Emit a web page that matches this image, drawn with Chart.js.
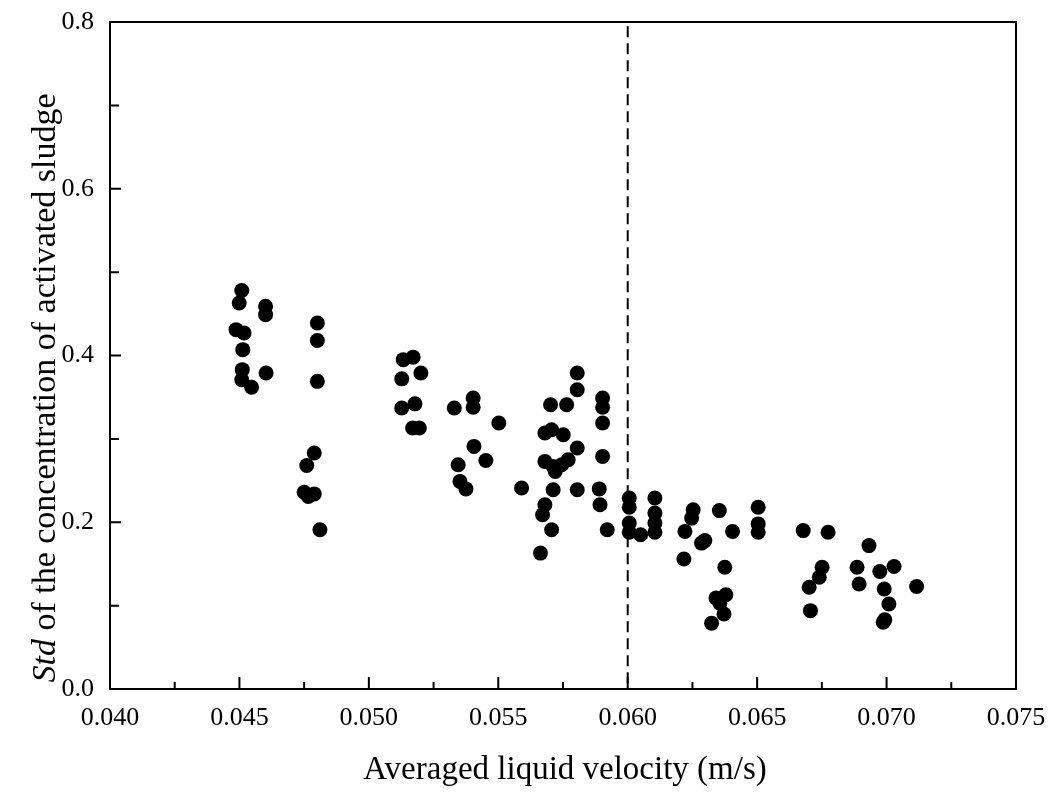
<!DOCTYPE html>
<html>
<head>
<meta charset="utf-8">
<script src="https://cdn.jsdelivr.net/npm/chart.js@4.4.0/dist/chart.umd.min.js"></script>
<style>
html, body { margin: 0; padding: 0; background: #fff; }
#wrap { width: 1056px; height: 792px; }
</style>
</head>
<body>
<div id="wrap"><canvas id="chart"></canvas></div>
<script>
// averaged liquid velocity (m/s)
const velocity = [
  0.04509, 0.04499, 0.04601, 0.04601, 0.04487, 0.04518, 0.04513, 0.04511, 0.04603, 0.04509, 0.04547,
  0.04801, 0.04801, 0.04801, 0.04789, 0.04760, 0.04766, 0.04789, 0.04750, 0.04811,
  0.05133, 0.05171, 0.05127, 0.05201, 0.05127, 0.05178, 0.05169, 0.05195,
  0.05330, 0.05403, 0.05403, 0.05502, 0.05406, 0.05452, 0.05345, 0.05352, 0.05375, 0.05590,
  0.05805, 0.05805, 0.05702, 0.05764, 0.05903, 0.05903, 0.05903, 0.05680, 0.05706, 0.05751,
  0.05805, 0.05903, 0.05680, 0.05712, 0.05745, 0.05770, 0.05720, 0.05712, 0.05805, 0.05890,
  0.05893, 0.05680, 0.05671, 0.05706, 0.05921, 0.05663,
  0.06006, 0.06006, 0.06006, 0.06006, 0.06050, 0.06105, 0.06105, 0.06105, 0.06105,
  0.06253, 0.06247, 0.06221, 0.06298, 0.06285, 0.06354, 0.06405, 0.06217, 0.06375,
  0.06341, 0.06379, 0.06356, 0.06372, 0.06324, 0.06504, 0.06504, 0.06504,
  0.06678, 0.06774, 0.06932, 0.06751, 0.06740, 0.06701, 0.06706,
  0.06886, 0.06894, 0.06974, 0.07029, 0.06991, 0.07009, 0.06993, 0.06987, 0.07116
];
// Std of the concentration of activated sludge
const stdConc = [
  0.478, 0.463, 0.459, 0.449, 0.431, 0.427, 0.407, 0.383, 0.379, 0.371, 0.362,
  0.439, 0.418, 0.369, 0.283, 0.268, 0.231, 0.234, 0.236, 0.191,
  0.395, 0.398, 0.372, 0.379, 0.337, 0.342, 0.313, 0.313,
  0.337, 0.349, 0.338, 0.319, 0.291, 0.274, 0.269, 0.249, 0.240, 0.241,
  0.379, 0.359, 0.341, 0.341, 0.349, 0.338, 0.319, 0.307, 0.311, 0.305,
  0.289, 0.279, 0.273, 0.267, 0.269, 0.275, 0.261, 0.239, 0.239, 0.240,
  0.221, 0.221, 0.209, 0.191, 0.191, 0.163,
  0.229, 0.218, 0.199, 0.188, 0.185, 0.229, 0.211, 0.199, 0.188,
  0.215, 0.205, 0.189, 0.178, 0.175, 0.214, 0.189, 0.156, 0.146,
  0.109, 0.113, 0.103, 0.090, 0.079, 0.218, 0.198, 0.188,
  0.190, 0.188, 0.172, 0.146, 0.134, 0.122, 0.094,
  0.146, 0.126, 0.141, 0.147, 0.120, 0.102, 0.083, 0.080, 0.123
];
// dashed reference line at 0.060 m/s (drawn top-down)
const thresholdX = 0.060;
const thresholdY = [0.795, 0];

const serif = '"Liberation Serif", "Times New Roman", serif';

// 边框、内向刻度和坐标轴标题
const framePlugin = {
  id: 'frame',
  afterDraw(chart) {
    const { ctx, chartArea: a, scales: { x, y } } = chart;
    ctx.save();
    ctx.strokeStyle = '#000';
    ctx.lineWidth = 2;
    ctx.strokeRect(a.left, a.top, a.right - a.left, a.bottom - a.top);

    ctx.beginPath();
    for (let i = 0; i <= 14; i++) {
      const px = x.getPixelForValue(0.040 + i * 0.0025);
      const len = i % 2 === 0 ? 12 : 7;
      ctx.moveTo(px, a.bottom);
      ctx.lineTo(px, a.bottom - len);
    }
    for (let i = 0; i <= 8; i++) {
      const py = y.getPixelForValue(i * 0.1);
      const len = i % 2 === 0 ? 11 : 9;
      ctx.moveTo(a.left, py);
      ctx.lineTo(a.left + len, py);
    }
    ctx.stroke();

    // x title
    ctx.fillStyle = '#000';
    ctx.textAlign = 'center';
    ctx.textBaseline = 'middle';
    ctx.font = '33px ' + serif;
    ctx.fillText('Averaged liquid velocity (m/s)', 565, 770);

    // y title, "Std" in italics
    ctx.translate(46, 388);
    ctx.rotate(-Math.PI / 2);
    ctx.font = 'italic 34px ' + serif;
    const w1 = ctx.measureText('Std').width;
    ctx.font = '34px ' + serif;
    const rest = ' of the concentration of activated sludge';
    const w2 = ctx.measureText(rest).width;
    const sx = -(w1 + w2) / 2;
    ctx.textAlign = 'left';
    ctx.font = 'italic 34px ' + serif;
    ctx.fillText('Std', sx, 0);
    ctx.font = '34px ' + serif;
    ctx.fillText(rest, sx + w1, 0);
    ctx.restore();
  }
};

// 去掉刻度标签造成的额外边距，让绘图区位置固定
function noOverhang(scale) {
  scale.paddingTop = 0;
  scale.paddingBottom = 0;
  scale.paddingLeft = 0;
  scale.paddingRight = 0;
}

new Chart(document.getElementById('chart'), {
  type: 'scatter',
  data: {
    datasets: [
      {
        data: velocity.map((v, i) => ({ x: v, y: stdConc[i] })),
        backgroundColor: '#000',
        borderWidth: 0,
        pointRadius: 7.5,
        order: 0
      },
      {
        type: 'line',
        data: thresholdY.map(v => ({ x: thresholdX, y: v })),
        borderColor: '#000',
        borderWidth: 2,
        borderDash: [11, 6],
        pointRadius: 0,
        fill: false,
        order: 1
      }
    ]
  },
  options: {
    responsive: true,
    maintainAspectRatio: false,
    animation: false,
    layout: { padding: { left: 0, right: 40, top: 22, bottom: 0 } },
    plugins: { legend: { display: false }, tooltip: { enabled: false } },
    scales: {
      x: {
        type: 'linear',
        min: 0.040,
        max: 0.075,
        afterFit(scale) { scale.height = 103; noOverhang(scale); },
        grid: { display: false, drawTicks: false },
        border: { display: false },
        ticks: {
          stepSize: 0.005,
          padding: 14,
          color: '#000',
          font: { family: serif, size: 26 },
          callback: v => v.toFixed(3)
        }
      },
      y: {
        min: 0,
        max: 0.8,
        afterFit(scale) { scale.width = 110; noOverhang(scale); },
        grid: { display: false, drawTicks: false },
        border: { display: false },
        ticks: {
          stepSize: 0.2,
          padding: 16,
          color: '#000',
          font: { family: serif, size: 26 },
          callback: v => v.toFixed(1)
        }
      }
    }
  },
  plugins: [framePlugin]
});
</script>
</body>
</html>
